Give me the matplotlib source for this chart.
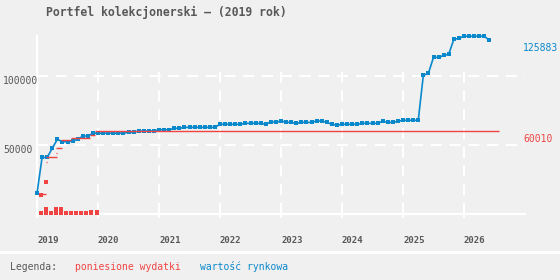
import matplotlib
matplotlib.use("Agg")
import matplotlib.pyplot as plt
from matplotlib.lines import Line2D
from matplotlib.transforms import blended_transform_factory, offset_copy

plt.rcParams['lines.scale_dashes'] = False
plt.rcParams['font.family'] = ['DejaVu Sans Mono']

# ---------------- data ----------------
title = "Portfel kolekcjonerski – (2019 rok)"
year_ticks = [2019, 2020, 2021, 2022, 2023, 2024, 2025, 2026]

# market value, monthly from Jan 2019 (index = month number)
market_value = [
    15000, 41000, 41000, 47600, 54100, 52400, 52400, 53000, 54000, 56500, 56500, 58500,
    58600, 58600, 58600, 58600, 58600, 58600, 59200, 59200, 60100, 60100, 60100, 60100,
    61100, 61100, 61100, 62100, 62100, 62800, 62800, 62800, 62800, 62800, 62800, 62800,
    65000, 65000, 65000, 65000, 65000, 65700, 65700, 65700, 65700, 65000, 66900, 66400,
    67400, 66400, 66400, 65700, 66400, 66400, 66400, 67400, 67400, 66400, 65000, 64300,
    65000, 65000, 65000, 65000, 65700, 65700, 65700, 65700, 67200, 66400, 66400, 67200,
    67900, 67900, 67900, 67900, 100500, 102000, 113500, 113500, 114900, 115800, 126600, 127300,
    128800, 128800, 128800, 128800, 128800, 125883,
]
market_months = list(range(len(market_value)))

# cumulative expenses: horizontal segments (decimal year start, end, value)
cum_start = [2019.070, 2019.152, 2019.150, 2019.316, 2019.316, 2019.398, 2019.562, 2019.864, 2019.946]
cum_end   = [2019.152, 2019.328, 2019.162, 2019.328, 2019.410, 2019.562, 2019.864, 2019.946, 2026.574]
cum_value = [14500, 41100, 37400, 44000, 47600, 53800, 55000, 57000, 60010]

# individual purchases (decimal year, amount)
buy_date = [2019.070, 2019.070, 2019.152, 2019.152, 2019.152, 2019.234, 2019.316, 2019.316,
            2019.398, 2019.398, 2019.480, 2019.562, 2019.644, 2019.725, 2019.807,
            2019.890, 2019.890, 2019.984, 2019.984]
buy_amount = [13500, 500, 23000, 500, 3400, 500, 500, 3400,
              500, 3400, 500, 500, 500, 500, 500,
              500, 1800, 500, 1800]

last_value_label = "125883"
total_cost_label = "60010"

# ---------------- style ----------------
BG = '#f0f0f0'
BLUE = '#0a88cc'
RED = '#f04444'
GRAY = '#585858'
W, H = 560, 280

fig = plt.figure(figsize=(W / 100, H / 100), dpi=100, facecolor=BG)
ax_l, ax_r, ax_b, ax_t = 37, 525, 214, 36
ax = fig.add_axes([ax_l / W, 1 - ax_b / H, (ax_r - ax_l) / W, (ax_b - ax_t) / H])
ax.set_facecolor(BG)
ax.set_xlim(2019, 2027)
ax.set_ylim(0, 129000)

for s in ['top', 'right']:
    ax.spines[s].set_visible(False)
for s in ['left', 'bottom']:
    ax.spines[s].set_color('white')
    ax.spines[s].set_linewidth(1.6)

ax.set_yticks([50000, 100000])
ax.set_yticklabels([])
ax.tick_params(axis='y', length=0)
ax.set_xticks(year_ticks)
ax.set_xticklabels([str(y) for y in year_ticks], ha='left', fontsize=6.5,
                   color=GRAY, fontweight='bold')
ax.tick_params(axis='x', length=3, width=1.5, color='white', pad=13)
DASH = (0, (8, 5.5))
ax.grid(True, axis='y', color='white', lw=1.5, ls=DASH)
ax.vlines(year_ticks[1:], 0, 108500, colors='white', lw=1.5, linestyles=[DASH], zorder=0.5)
ax.set_axisbelow(True)

# y labels at left edge of the figure
ytr = blended_transform_factory(fig.transFigure, ax.transData)
for v in [50000, 100000]:
    ax.text(3 / W, v, str(v), transform=ytr, ha='left', va='top', fontsize=7,
            color=GRAY, clip_on=False)

# market value line
mx = [2019 + m / 12 for m in market_months]
ax.plot(mx, market_value, color=BLUE, lw=1.2, marker='s', ms=2.3, mew=0,
        clip_on=False, zorder=3)

# expenses
ax.hlines(cum_value, cum_start, cum_end, colors=RED, lw=1.0, zorder=4)
ax.scatter(buy_date, buy_amount, marker='s', s=6, color=RED, linewidths=0,
           zorder=4, clip_on=False)

# right-side value labels
rtr = offset_copy(blended_transform_factory(ax.transAxes, ax.transData),
                  fig=fig, x=0, y=-3, units='dots')
ax.text(0.996, market_value[-1], last_value_label, transform=rtr, ha='left', va='top',
        fontsize=7, color=BLUE, clip_on=False)
ax.text(0.996, cum_value[-1], total_cost_label, transform=rtr, ha='left', va='top',
        fontsize=7, color=RED, clip_on=False)

# title
fig.text(46 / W, 1 - 12 / H, title, ha='left', va='center', fontsize=8.3,
         fontweight='bold', color=GRAY)

# legend band
fig.add_artist(Line2D([0, 1], [1 - 251.5 / H] * 2, transform=fig.transFigure,
                      color='white', lw=2.2))
fig.text(10 / W, 1 - 267 / H, "Legenda:", ha='left', va='center', fontsize=7, color=GRAY)
fig.text(75 / W, 1 - 267 / H, "poniesione wydatki", ha='left', va='center', fontsize=7, color=RED)
fig.text(200 / W, 1 - 267 / H, "wartość rynkowa", ha='left', va='center', fontsize=7, color=BLUE)

fig.savefig("out.png", dpi=100, facecolor=BG)
